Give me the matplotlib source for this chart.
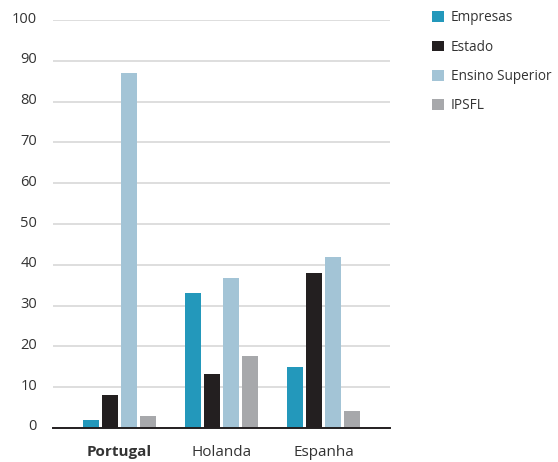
import matplotlib
matplotlib.use("Agg")
import matplotlib.pyplot as plt
import matplotlib.transforms as mtransforms
import numpy as np

plt.rcParams['font.family'] = ['Open Sans', 'DejaVu Sans']

categories = ["Portugal", "Holanda", "Espanha"]
series_names = ["Empresas", "Estado", "Ensino Superior", "IPSFL"]
empresas = [2.0, 33.0, 15.0]
estado = [8.1, 13.2, 38.1]
ensino_superior = [87.0, 36.8, 41.9]
ipsfl = [3.0, 17.6, 4.2]
yticks = [0, 10, 20, 30, 40, 50, 60, 70, 80, 90, 100]

series = [empresas, estado, ensino_superior, ipsfl]
colors = ["#2398bb", "#231f20", "#a3c4d6", "#a7a8ab"]

W, H = 558, 462
fig = plt.figure(figsize=(W / 100, H / 100), dpi=100)
ax = fig.add_axes([53 / W, 34 / H, (390 - 53) / W, (428 - 20) / H])

x = np.arange(len(categories))
pitch = 19 / 102
width = 16 / 102
handles = []
for i, (vals, c, name) in enumerate(zip(series, colors, series_names)):
    b = ax.bar(x + (i - 1.5) * pitch, vals, width=width, color=c, label=name, zorder=3)
    handles.append(b)

ax.set_xlim(-0.652, 2.652)
ax.set_ylim(0, 100)
ax.set_yticks(yticks)
ax.yaxis.grid(True, color="#dedede", linewidth=1.4, zorder=0)
ax.set_axisbelow(True)
for s in ["top", "right", "left"]:
    ax.spines[s].set_visible(False)
ax.spines["bottom"].set_color("#231f20")
ax.spines["bottom"].set_linewidth(1.4)
ax.spines["bottom"].set_zorder(4)

ax.tick_params(axis="y", length=0, pad=11.5, labelsize=10.5, labelcolor="#333333")
ax.tick_params(axis="x", length=0, pad=12, labelsize=11, labelcolor="#333333")
ax.set_xticks(x)
ax.set_xticklabels(categories)
ax.get_xticklabels()[0].set_fontweight("bold")
offset = mtransforms.ScaledTranslation(0, 3 / 100, fig.dpi_scale_trans)
for lab in ax.get_yticklabels():
    lab.set_transform(lab.get_transform() + offset)

leg = fig.legend(handles=handles, labels=series_names, loc="upper left",
                 bbox_to_anchor=(427 / W, 1 - 5 / H), frameon=False,
                 fontsize=9.8, handlelength=0.85, handleheight=0.85,
                 handletextpad=0.5, labelspacing=1.05, borderaxespad=0,
                 labelcolor="#333333")

fig.savefig("out.png", dpi=100)
